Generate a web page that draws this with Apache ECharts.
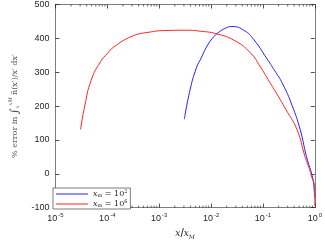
<!DOCTYPE html>
<html>
<head>
<meta charset="utf-8">
<script src="https://cdn.jsdelivr.net/npm/echarts@6/dist/echarts.min.js"></script>
<style>
  html,body{margin:0;padding:0;background:#fff;}
  #chart{width:325px;height:245px;}
</style>
</head>
<body>
<div id="chart"></div>
<script>
// x_m = 10^2 (blue)
const blueX = [3.05e-3, 3.94e-3, 5.22e-3, 6.46e-3, 8.0e-3, 1.06e-2, 1.41e-2, 1.9e-2, 2.51e-2, 4.37e-2, 6.68e-2, 0.118, 0.168, 0.239, 0.366, 0.521, 0.69, 0.918, 0.977, 1]
const blueY = [161, 248, 313, 342, 372, 400, 418, 430, 435, 423, 396, 341, 305, 266, 201, 131, 51, -15, -52, -70]
// x_m = 10^6 (red)
const redX = [3.05e-5, 3.68e-5, 4.88e-5, 7.46e-5, 1.0e-4, 1.32e-4, 3.09e-4, 6.31e-4, 1.26e-3, 3.39e-3, 6.31e-3, 1.23e-2, 2.88e-2, 5.75e-2, 8.9e-2, 0.126, 0.182, 0.276, 0.452, 0.646, 0.794, 0.855, 0.989, 1]
const redY = [131, 201, 276, 332, 355, 374, 407, 418, 423, 424, 421, 414, 393, 357, 316, 278, 238, 190, 131, 51, 12, -5, -43, -95]
const yTicks = [-100, 0, 100, 200, 300, 400, 500]
// minor tick positions on the log axis
const minorX = []
for (const d of [1e-5, 1e-4, 1e-3, 1e-2, 1e-1]) for (const m of [2, 3, 4, 5, 6, 7, 8, 9]) minorX.push(+(m * d).toPrecision(3))

let myChart = echarts.init(document.getElementById("chart"))

const axisCol = "#262626"
const supRich = {
    base: {fontSize: 9, color: axisCol, fontFamily: "Liberation Sans"},
    sup: {fontSize: 6, color: axisCol, verticalAlign: "top", padding: [0, 0, 6, 1], fontFamily: "Liberation Sans"}
}

function logAxis(pos, showLabel){
    return {
        type: "log", logBase: 10, position: pos,
        min: 1e-5, max: 1,
        axisLine: {onZero: false, lineStyle: {color: axisCol, width: 0.6}},
        axisTick: {inside: true, length: 4, lineStyle: {color: axisCol, width: 0.8}},
        minorTick: {show: false},
        splitLine: {show: false},
        axisLabel: {
            show: showLabel, margin: 5,
            formatter: (v) => "{base|10}{sup|" + Math.round(Math.log10(v)) + "}",
            rich: supRich
        }
    }
}

function linAxis(pos, showLabel){
    return {
        type: "value", position: pos,
        min: yTicks[0], max: yTicks[yTicks.length - 1], interval: 100,
        axisLine: {show: true, onZero: false, lineStyle: {color: axisCol, width: 0.6}},
        axisTick: {show: true, inside: true, length: 4, lineStyle: {color: axisCol, width: 0.8}},
        splitLine: {show: false},
        axisLabel: {show: showLabel, fontSize: 9, color: axisCol, margin: 6, fontFamily: "Liberation Sans"}
    }
}

let bottomX = logAxis("bottom", true)
bottomX.name = "{i|x}/{i|x}{s|M}"
bottomX.nameLocation = "middle"
bottomX.nameGap = 17
bottomX.nameTextStyle = {
    rich: {
        i: {fontFamily: "DejaVu Serif", fontStyle: "italic", fontSize: 9, color: axisCol},
        s: {fontFamily: "DejaVu Serif", fontStyle: "italic", fontSize: 6, color: axisCol, verticalAlign: "bottom", padding: [4, 0, 0, 0]}
    }
}

let leftY = linAxis("left", true)
leftY.name = "{t|% error in }{b|∫}{s|x}{p|xM}{t| n̄(x′)/x′ dx′}"
leftY.nameLocation = "middle"
leftY.nameGap = 30
leftY.nameTextStyle = {
    rich: {
        t: {fontFamily: "DejaVu Serif", fontSize: 8, color: "#555"},
        b: {fontFamily: "DejaVu Serif", fontSize: 11, color: "#555"},
        s: {fontFamily: "DejaVu Serif", fontStyle: "italic", fontSize: 5, color: "#555", padding: [6, 0, 0, 0]},
        p: {fontFamily: "DejaVu Serif", fontStyle: "italic", fontSize: 5, color: "#555", padding: [0, 0, 9, 0]}
    }
}

const legRich = {
    i: {fontFamily: "DejaVu Serif", fontStyle: "italic", fontSize: 8, color: axisCol},
    n: {fontFamily: "DejaVu Serif", fontSize: 8, color: axisCol},
    s: {fontFamily: "DejaVu Serif", fontSize: 5, color: axisCol, padding: [3, 0, 0, 0]},
    p: {fontFamily: "DejaVu Serif", fontSize: 5, color: axisCol, padding: [0, 0, 5, 0]}
}

function minorTicks(params, api){
    const x = api.value(0)
    const b = api.coord([x, yTicks[0]])
    const t = api.coord([x, yTicks[yTicks.length - 1]])
    const st = {stroke: axisCol, lineWidth: 0.7}
    return {type: "group", children: [
        {type: "line", shape: {x1: b[0], y1: b[1], x2: b[0], y2: b[1] - 2}, style: st},
        {type: "line", shape: {x1: t[0], y1: t[1], x2: t[0], y2: t[1] + 2}, style: st}
    ]}
}

myChart.setOption({
    animation: false,
    grid: {left: 46, right: 8, top: 4, bottom: 28},
    xAxis: [bottomX, logAxis("top", false)],
    yAxis: [leftY, linAxis("right", false)],
    legend: {
        data: ["a", "b"],
        orient: "vertical", left: 53, top: 188,
        backgroundColor: "#fff", borderColor: axisCol, borderWidth: 0.6,
        padding: [1, 3, 1, 3], itemGap: 1,
        icon: "rect", itemWidth: 32, itemHeight: 1,
        formatter: (name) => name === "a" ? "{i|x}{s|m}{n| = 10}{p|2}" : "{i|x}{s|m}{n| = 10}{p|6}",
        textStyle: {rich: legRich}
    },
    series: [
        {
            name: "ticks", type: "custom", silent: true, clip: false,
            renderItem: minorTicks,
            data: minorX.map((x) => [x])
        },
        {
            name: "a", type: "line", showSymbol: false, symbol: "none", smooth: 0.5,
            color: "#2020ff", lineStyle: {width: 1},
            data: blueX.map((x, i) => [x, blueY[i]])
        },
        {
            name: "b", type: "line", showSymbol: false, symbol: "none", smooth: 0.5,
            color: "#ff2020", lineStyle: {width: 1},
            data: redX.map((x, i) => [x, redY[i]])
        }
    ]
})
</script>
</body>
</html>
